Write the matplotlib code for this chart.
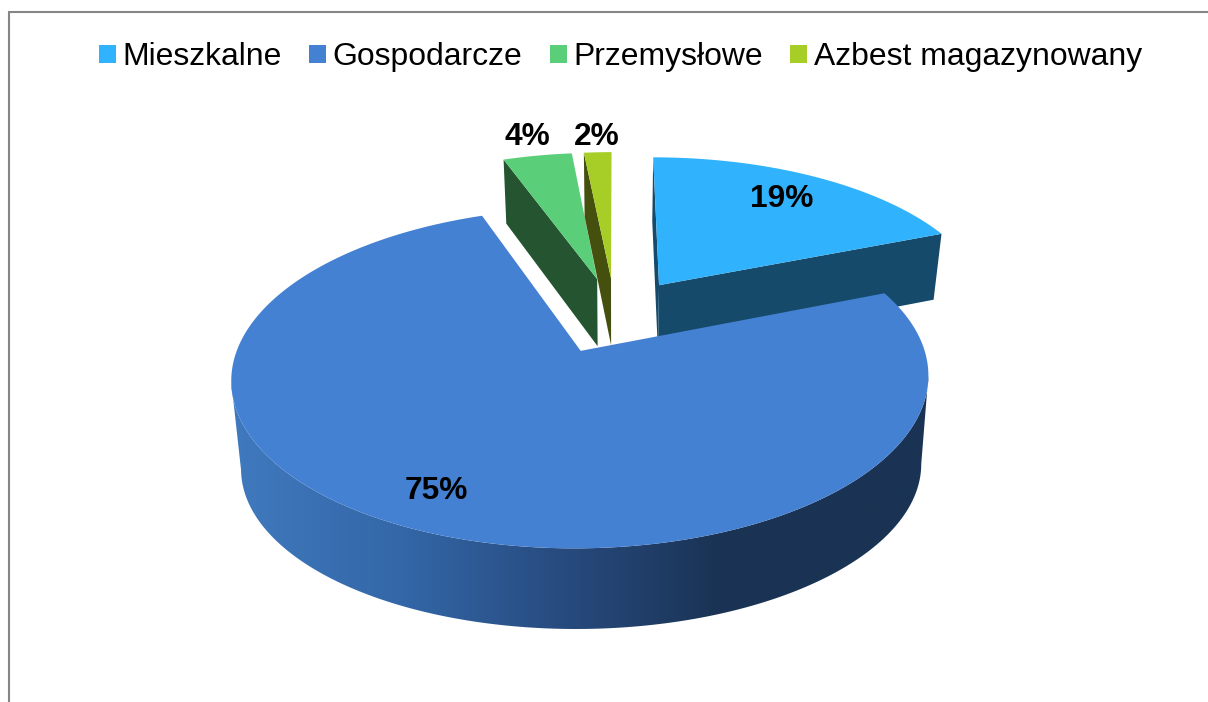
import numpy as np
import matplotlib
matplotlib.use("Agg")
import matplotlib.pyplot as plt
from matplotlib.patches import Patch, Polygon
from matplotlib.colors import LinearSegmentedColormap

categories = ["Mieszkalne", "Gospodarcze", "Przemysłowe", "Azbest magazynowany"]
values = [19.0, 75.4, 4.0, 1.6]

top_colors = ["#31b2fc", "#4581d3", "#5bce7a", "#a6ce27"]
side_colors = ["#154a6b", "#1a3354", "#245430", "#45500f"]
explode = [0.245, 0.235, 0.25, 0.25]
label_pos = [(782, 199), (436, 491), (527, 137), (597, 137)]

plt.rcParams["font.family"] = ["Liberation Sans", "DejaVu Sans"]
W, H = 1208, 702
fig = plt.figure(figsize=(W / 100, H / 100), dpi=100, facecolor="white")
ax = fig.add_axes([0, 0, 1, 1])
ax.axis("off")

# perspective of the upper and lower disc planes
K = 0.158
def top_xy(u, v, cx=615):
    w = 1 + K * v
    return cx + 330 * u / w, 316 - 157 * v / w

def low_xy(u, v, big=False):
    w = 1 + K * v
    cx, cy, b = (614, 407, 150) if big else (615, 384, 161)
    return cx + 322 * u / w, cy - b * v / w

edges = np.concatenate([[0], np.cumsum(values)]) / np.sum(values) * 2 * np.pi

def rim(i, n=240, ru=1.0, rv=1.0):
    th = np.linspace(edges[i], edges[i + 1], n)
    mid = (edges[i] + edges[i + 1]) / 2
    au, av = explode[i] * np.sin(mid), explode[i] * np.cos(mid)
    return au, av, au + ru * np.sin(th), av + rv * np.cos(th)

def draw_small(i, faces, ru=1.0):
    au, av, u, v = rim(i, 60, ru=ru)
    tx, ty = top_xy(u, v)
    lx, ly = low_xy(u, v)
    ax0, ay0 = top_xy(au, av)
    bx0, by0 = low_xy(au, av)
    # visible cut faces, then the top surface
    for k in faces:
        ax.fill([ax0, tx[k], lx[k], bx0], [ay0, ty[k], ly[k], by0], color=side_colors[i], lw=0)
    ax.fill(np.r_[ax0, tx], np.r_[ay0, ty], color=top_colors[i], lw=0)

draw_small(0, (0, -1), ru=1.012)
draw_small(2, (0,))
draw_small(3, (0,))

# large slice: front of the outer side with a horizontal shade, then top
au, av, u, v = rim(1, 400, ru=1.007, rv=0.985)
tx, ty = top_xy(u, v, cx=613.5)
lx, ly = low_xy(u, v, big=True)
i0, i1 = np.argmax(tx), np.argmin(tx)
ramp_x = np.array([229, 400, 579, 720, 930])
ramp_c = ["#407abe", "#3367a8", "#26487a", "#1a3354", "#1a3354"]
cmap = LinearSegmentedColormap.from_list(
    "side", list(zip((ramp_x - ramp_x[0]) / (ramp_x[-1] - ramp_x[0]), ramp_c)))
side = Polygon(np.c_[np.r_[tx[i0:i1 + 1], lx[i0:i1 + 1][::-1]],
                     np.r_[ty[i0:i1 + 1], ly[i0:i1 + 1][::-1]]], closed=True,
               facecolor="none", edgecolor="none", transform=ax.transData)
ax.add_patch(side)
im = ax.imshow(np.linspace(0, 1, 512)[None, :], cmap=cmap, aspect="auto",
               extent=(ramp_x[0], ramp_x[-1], H, 0), interpolation="bilinear", zorder=1)
im.set_clip_path(side)
ax0, ay0 = top_xy(au, av, cx=613.5)
ax.fill(np.r_[ax0, tx], np.r_[ay0, ty], color=top_colors[1], lw=0, zorder=2)

# value labels
for val, (x, y) in zip(values, label_pos):
    ax.text(x, y, f"{val:.0f}%", ha="center", va="center", fontsize=22.8,
            fontweight="bold", color="black", zorder=3)

# frame
ax.plot([9, 9, W], [H, 12, 12], color="#868686", lw=1.5, solid_joinstyle="miter", zorder=3)

ax.set_xlim(0, W)
ax.set_ylim(H, 0)

# legend
handles = [Patch(facecolor=c, edgecolor="none") for c in top_colors]
fig.legend(handles, categories, loc="center", ncol=4, frameon=False,
           bbox_to_anchor=(620.5 / W, 1 - 57 / H), fontsize=22.95,
           handlelength=0.535, handleheight=0.5, handletextpad=0.2,
           columnspacing=0.86, labelcolor="black", borderpad=0, borderaxespad=0)

fig.savefig("out.png", dpi=100, facecolor="white")
